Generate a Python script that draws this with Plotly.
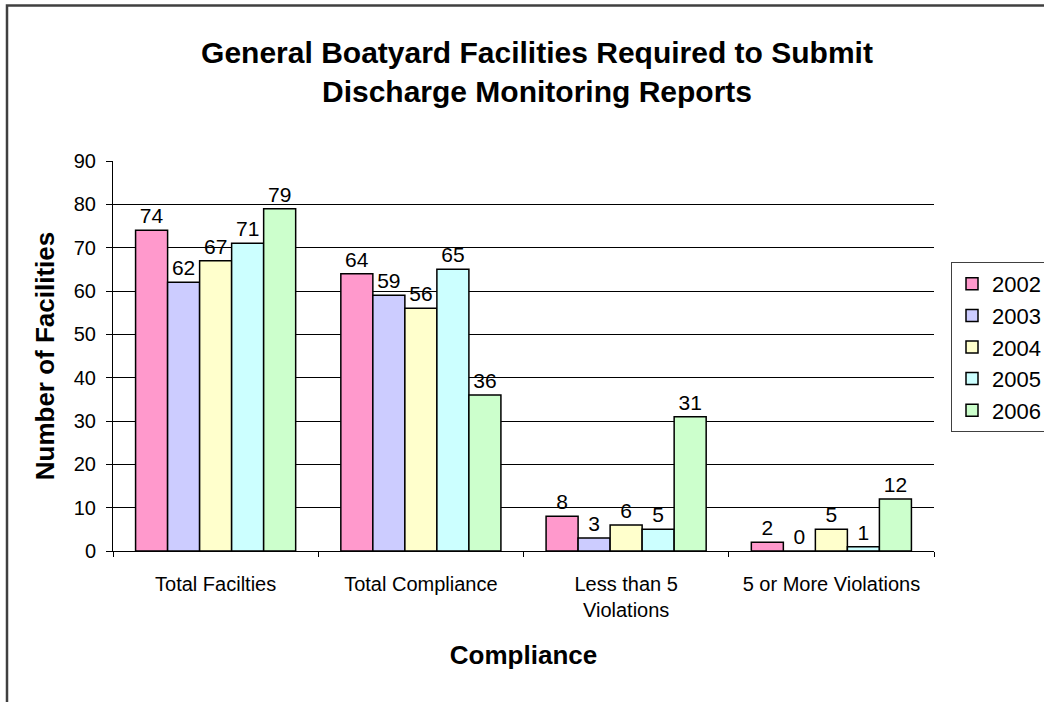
import plotly.graph_objects as go

categories = ["Total Facilties", "Total Compliance", "Less than 5<br>Violations", "5 or More Violations"]
years = ["2002", "2003", "2004", "2005", "2006"]
values_2002 = [74, 64, 8, 2]
values_2003 = [62, 59, 3, 0]
values_2004 = [67, 56, 6, 5]
values_2005 = [71, 65, 5, 1]
values_2006 = [79, 36, 31, 12]
series = [values_2002, values_2003, values_2004, values_2005, values_2006]
colors = ["#FF99CC", "#CCCCFF", "#FFFFCC", "#CCFFFF", "#CCFFCC"]

FONT = "Liberation Sans, Arial, sans-serif"

fig = go.Figure()
for i, (yr, vals) in enumerate(zip(years, series)):
    fig.add_trace(go.Bar(
        x=categories, y=vals, name=yr,
        marker=dict(color=colors[i], line=dict(color="black", width=1.5)),
        text=[str(v) for v in vals], textposition="outside",
        textfont=dict(family=FONT, size=21, color="black"),
        cliponaxis=False,
    ))

W, H = 1044, 702
L, R, T, B = 113, 110, 161, 151
pw, ph = W - L - R, H - T - B

def px(x):
    return (x - L) / pw

def py(y):
    return (H - B - y) / ph

fig.update_layout(
    width=W, height=H,
    margin=dict(l=L, r=R, t=T, b=B, autoexpand=False),
    paper_bgcolor="white", plot_bgcolor="white",
    barmode="group", bargap=0.22, bargroupgap=0,
    font=dict(family=FONT, color="black"),
    title=dict(
        text="<b>General Boatyard Facilities Required to Submit<br>Discharge Monitoring Reports</b>",
        x=537 / W, xanchor="center", y=1 - 63 / H, yanchor="top",
        font=dict(family=FONT, size=30, color="black"),
    ),
    xaxis=dict(
        showline=True, linecolor="black", linewidth=1,
        ticks="outside", tickson="boundaries", ticklen=5, tickcolor="black",
        ticklabelstandoff=15,
        tickfont=dict(family=FONT, size=20, color="black"),
        title=dict(text="<b>Compliance</b>", font=dict(family=FONT, size=26, color="black"), standoff=25),
        automargin=False,
    ),
    yaxis=dict(
        range=[0, 90], dtick=10, showgrid=True, gridcolor="black", gridwidth=1,
        showline=True, linecolor="black", linewidth=1,
        ticks="outside", ticklen=6, tickcolor="black", ticklabelstandoff=6,
        tickfont=dict(family=FONT, size=20, color="black"),
        title=dict(text="<b>Number of Facilities</b>", font=dict(family=FONT, size=26, color="black"), standoff=11),
        zeroline=False, automargin=False,
    ),
    legend=dict(
        x=px(951), xanchor="left", y=py(262), yanchor="top",
        bordercolor="#404040", borderwidth=1, bgcolor="white",
        font=dict(family=FONT, size=22, color="black"),
        itemclick=False,
    ),
    showlegend=True,
)

fig.add_shape(type="rect", xref="paper", yref="paper",
              x0=px(7), x1=px(1070), y0=py(5.5), y1=py(730),
              line=dict(color="#404040", width=2.5), fillcolor="rgba(0,0,0,0)", layer="below")

fig.write_html("out.html", config={"displayModeBar": False},
               post_script="document.body.style.margin='0';document.body.style.overflow='hidden';")
